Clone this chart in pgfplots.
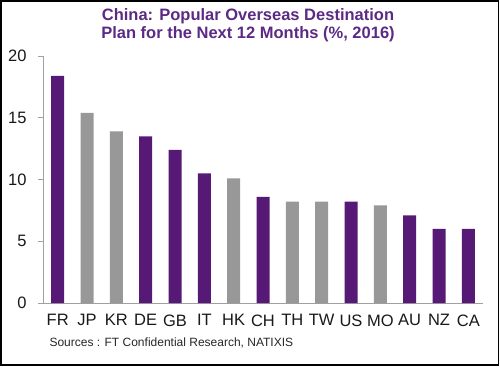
\documentclass[border=0pt]{standalone}
\usepackage{pgfplots}
\pgfplotsset{compat=1.18}
\usepackage{fontspec}
\setmainfont{Liberation Sans}
\definecolor{purp}{RGB}{86,26,118}
\definecolor{titlep}{RGB}{92,42,132}
\definecolor{bgray}{RGB}{152,152,152}
\definecolor{axgray}{RGB}{160,160,160}
\begin{document}
\begin{tikzpicture}
\path[use as bounding box] (0,0) rectangle (500pt,367pt);
\draw[black,line width=1.6pt] (1pt,1.8pt) rectangle (498.4pt,366pt);
\node[anchor=base, font=\bfseries\fontsize{16.5}{19}\selectfont, text=titlep] at (248pt,346pt) {China: Popular Overseas Destination};
\node[anchor=base, font=\bfseries\fontsize{16.5}{19}\selectfont, text=titlep] at (248pt,328pt) {Plan for the Next 12 Months (\%, 2016)};
\node[anchor=base west, font=\fontsize{12}{12}\selectfont, text=black!85] at (46pt,21pt) {Sources : FT Confidential Research, NATIXIS};
\begin{axis}[
  at={(43pt,64pt)}, anchor=south west, scale only axis,
  width=440pt, height=247pt,
  xmin=0.5, xmax=15.5, ymin=0, ymax=20,
  axis lines*=left,
  axis line style={draw=axgray, line width=0.9pt},
  ybar, bar width=13pt,
  xtick={1,...,15},
  xticklabels={FR,JP,KR,DE,GB,IT,HK,CH,TH,TW,US,MO,AU,NZ,CA},
  xtick style={draw=none},
  extra x ticks={0.5,1.5,...,15.5},
  extra x tick labels={},
  extra x tick style={major tick length=5pt, tick style={draw=axgray, line width=0.9pt}, grid=none},
  ytick={0,5,10,15,20},
  ytick style={draw=axgray, line width=0.9pt},
  major tick length=5pt,
  tick align=outside,
  /pgf/number format/assume math mode=true,
  ticklabel style={font=\fontsize{16.5}{17}\selectfont, text=black!90},
  xticklabel style={yshift=-3pt},
  yticklabel style={xshift=-8pt},
]
\addplot[fill=purp, draw=none, bar shift=0pt] coordinates {(1,18.4) (4,13.5) (5,12.4) (6,10.5) (8,8.6) (11,8.2) (13,7.1) (14,6.0) (15,6.0)};
\addplot[fill=bgray, draw=none, bar shift=0pt] coordinates {(2,15.4) (3,13.9) (7,10.1) (9,8.2) (10,8.2) (12,7.9)};
\end{axis}
\end{tikzpicture}
\end{document}
